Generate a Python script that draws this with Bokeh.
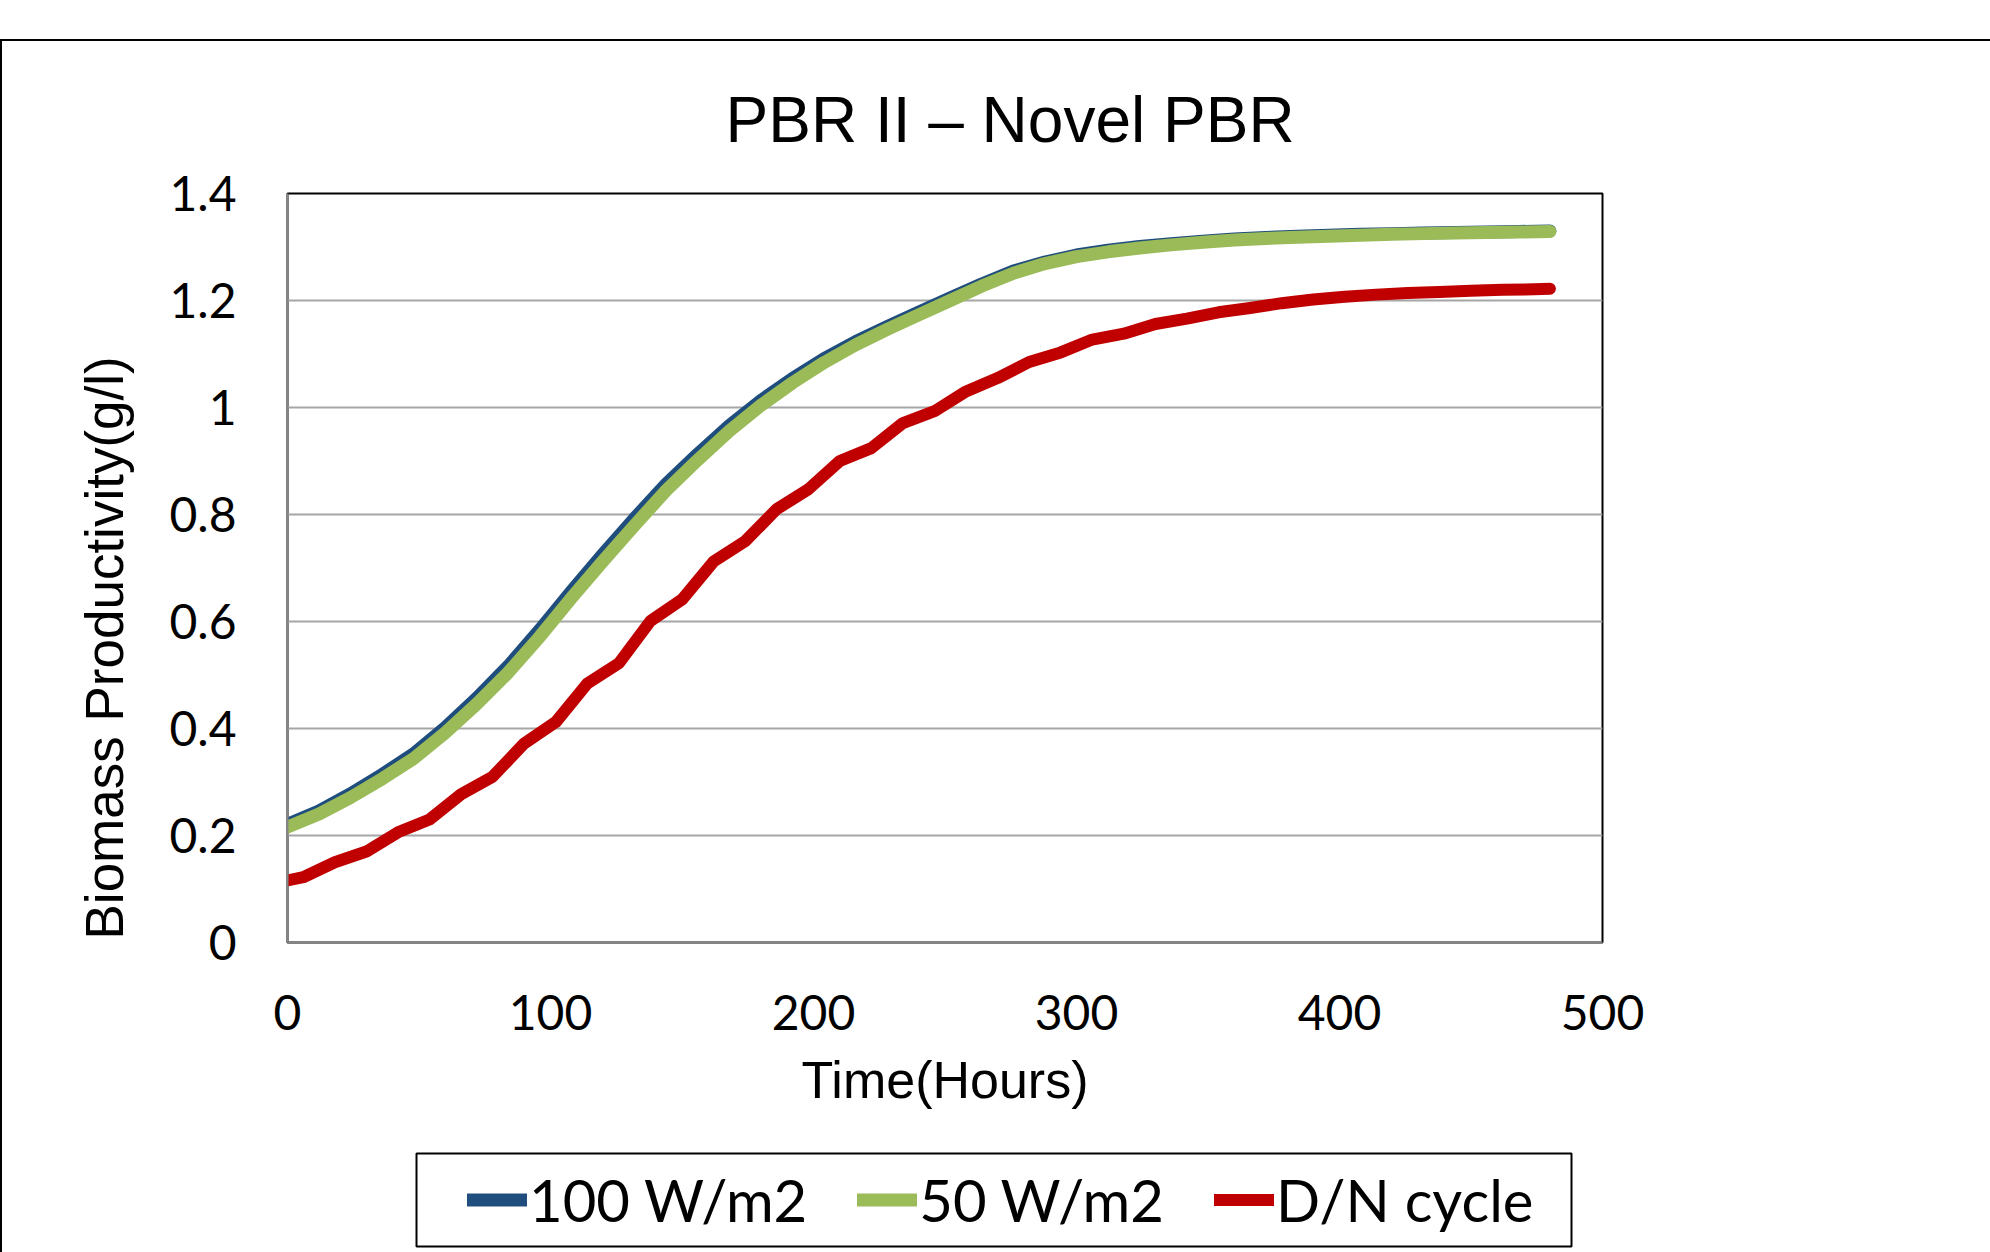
from bokeh.plotting import figure
from bokeh.layouts import column
from bokeh.models import (Range1d, FixedTicker, CustomJSTickFormatter, Legend,
                          LegendItem, Title, InlineStyleSheet, BoxAnnotation)
from bokeh.embed import file_html
from bokeh.resources import INLINE

# ---------------- data ----------------
hours = [0, 12, 24, 36, 48, 60, 72, 84, 96, 108, 120, 132, 144, 156, 168, 180, 192, 204,
         216, 228, 240, 252, 264, 276, 288, 300, 312, 324, 336, 348, 360, 372, 384, 396,
         408, 420, 432, 444, 456, 468, 480]
w100 = [0.221, 0.246, 0.278, 0.314, 0.353, 0.402, 0.457, 0.517, 0.585, 0.657, 0.726,
        0.793, 0.857, 0.913, 0.966, 1.013, 1.054, 1.091, 1.123, 1.151, 1.178, 1.205,
        1.231, 1.255, 1.272, 1.285, 1.294, 1.301, 1.306, 1.311, 1.315, 1.318, 1.320,
        1.322, 1.324, 1.325, 1.326, 1.327, 1.328, 1.329, 1.330]
w50 = [0.216, 0.240, 0.271, 0.306, 0.344, 0.392, 0.446, 0.505, 0.572, 0.644, 0.713,
       0.780, 0.845, 0.902, 0.956, 1.004, 1.046, 1.084, 1.117, 1.146, 1.173, 1.200,
       1.227, 1.251, 1.269, 1.282, 1.291, 1.298, 1.304, 1.309, 1.313, 1.316, 1.318,
       1.320, 1.322, 1.324, 1.325, 1.326, 1.327, 1.328, 1.329]
dn_hours = [0, 6, 18, 30, 42, 54, 66, 78, 90, 102, 114, 126, 138, 150, 162, 174, 186, 198,
            210, 222, 234, 246, 258, 270, 282, 294, 306, 318, 330, 342, 354, 366, 378, 390,
            402, 414, 426, 438, 450, 462, 474, 480]
dn_cycle = [0.116, 0.122, 0.150, 0.170, 0.206, 0.230, 0.277, 0.310, 0.372, 0.412, 0.484,
            0.522, 0.601, 0.641, 0.712, 0.750, 0.810, 0.847, 0.900, 0.924, 0.971, 0.993,
            1.030, 1.055, 1.085, 1.103, 1.127, 1.138, 1.156, 1.166, 1.178, 1.186, 1.195,
            1.202, 1.207, 1.211, 1.214, 1.216, 1.218, 1.220, 1.221, 1.222]
y_ticks = [0, 0.2, 0.4, 0.6, 0.8, 1.0, 1.2, 1.4]
x_ticks = [0, 100, 200, 300, 400, 500]
series_names = ["100 W/m2", "50 W/m2", "D/N cycle"]
series_colors = ["#1F4E7E", "#9BBB59", "#C00000"]
series_widths = [13, 13, 12]
title_text = "PBR II \u2013 Novel PBR"
x_title = "Time(Hours)"
y_title = "Biomass Productivity(g/l)"

# ---------------- main figure ----------------
W, H_MAIN, H_LEG = 1990, 1150, 102
FL, FT, FR, FB = 287, 193, 1602, 942  # frame edges on canvas
p = figure(width=W, height=H_MAIN, frame_width=FR - FL, frame_height=FB - FT,
           min_border_left=FL, min_border_right=W - FR, min_border_top=FT,
           min_border_bottom=H_MAIN - FB,
           x_range=Range1d(0, 500), y_range=Range1d(0, 1.4),
           output_backend="svg", toolbar_location=None)
p.background_fill_color = "white"
p.border_fill_color = "white"
p.outline_line_color = "black"
p.outline_line_width = 2

p.xgrid.visible = False
p.ygrid.grid_line_color = "#a6a6a6"
p.ygrid.grid_line_width = 2

p.yaxis.ticker = FixedTicker(ticks=y_ticks)
p.xaxis.ticker = FixedTicker(ticks=x_ticks)
p.yaxis.formatter = CustomJSTickFormatter(code="return (Math.round(tick*10)/10).toString();")
for ax in (p.xaxis[0], p.yaxis[0]):
    ax.axis_line_color = "#868686"
    ax.axis_line_width = 2
    ax.major_tick_line_color = None
    ax.minor_tick_line_color = None
    ax.major_tick_out = 0
    ax.major_tick_in = 0
    ax.major_label_text_font = "Lato"
    ax.major_label_text_font_size = "48px"
    ax.major_label_text_color = "black"
p.yaxis.major_label_standoff = 51
p.xaxis.major_label_standoff = 52
p.xaxis.axis_label = x_title
p.xaxis.axis_label_text_font = "Liberation Sans"
p.xaxis.axis_label_text_font_size = "52px"
p.xaxis.axis_label_text_font_style = "normal"
p.xaxis.axis_label_text_color = "black"
p.xaxis.axis_label_standoff = 18

p.line(hours, w100, line_color=series_colors[0], line_width=series_widths[0],
       line_cap="round", line_join="round")
p.line(hours, w50, line_color=series_colors[1], line_width=series_widths[1],
       line_cap="round", line_join="round")
p.line(dn_hours, dn_cycle, line_color=series_colors[2], line_width=series_widths[2],
       line_cap="round", line_join="round")

# chart title (above panel)
p.title = Title(text=title_text, align="left", offset=438, vertical_align="bottom",
                standoff=75, text_font="Liberation Sans", text_font_size="64px",
                text_font_style="normal", text_color="black")
# y axis title as a left-panel title
p.add_layout(Title(text=y_title, align="left", offset=3, vertical_align="bottom",
                   standoff=65, text_font="Liberation Sans", text_font_size="53px",
                   text_font_style="normal", text_color="black"), "left")

p.stylesheets = [InlineStyleSheet(css="""
:host { position: relative; }
:host::before { content: ""; position: absolute; left: 0px; top: 39px; right: 0px; bottom: 0px;
  border-top: 2px solid #000; border-left: 2px solid #000; pointer-events: none; z-index: 5; }
""")]

# ---------------- legend strip (same borders as the main figure) ----------------
LEG_FH = 98
pl = figure(width=W, height=H_LEG, frame_width=FR - FL, frame_height=LEG_FH,
            min_border_left=FL, min_border_right=W - FR, min_border_top=0,
            min_border_bottom=H_LEG - LEG_FH, x_range=Range1d(0, 1), y_range=Range1d(0, 1),
            x_axis_type=None, y_axis_type=None,
            output_backend="svg", toolbar_location=None)
pl.outline_line_color = None
pl.background_fill_color = "white"
pl.border_fill_color = "white"
pl.xgrid.visible = False
pl.ygrid.visible = False
# legend box: canvas x 416..1571, y 1153..1246 (local y 3..96)
pl.add_layout(BoxAnnotation(left=416 - FL, right=1571 - FL,
                            top=LEG_FH - (1153 - H_MAIN), bottom=LEG_FH - (1246 - H_MAIN),
                            left_units="screen", right_units="screen",
                            top_units="screen", bottom_units="screen",
                            fill_alpha=0, line_color="black", line_width=2, line_alpha=1))
leg_renderers = [pl.line([-5, -4], [-5, -4], line_color=c, line_width=w, line_cap="round")
                 for c, w in zip(series_colors, series_widths)]
legend = Legend(items=[LegendItem(label=n, renderers=[r])
                       for n, r in zip(series_names, leg_renderers)],
                orientation="horizontal", location="left", margin=180,
                border_line_color=None, background_fill_alpha=0,
                label_text_font="Lato", label_text_font_size="58px",
                label_text_color="black", glyph_width=60, glyph_height=20,
                label_standoff=2, spacing=50, padding=11)
pl.add_layout(legend, "center")
pl.stylesheets = [InlineStyleSheet(css="""
:host { position: relative; }
:host::before { content: ""; position: absolute; left: 0px; top: 0px; bottom: 0px; width: 0px;
  border-left: 2px solid #000; pointer-events: none; z-index: 5; }
""")]

layout = column(p, pl, spacing=0)
open("out.html", "w").write(file_html(layout, INLINE))
